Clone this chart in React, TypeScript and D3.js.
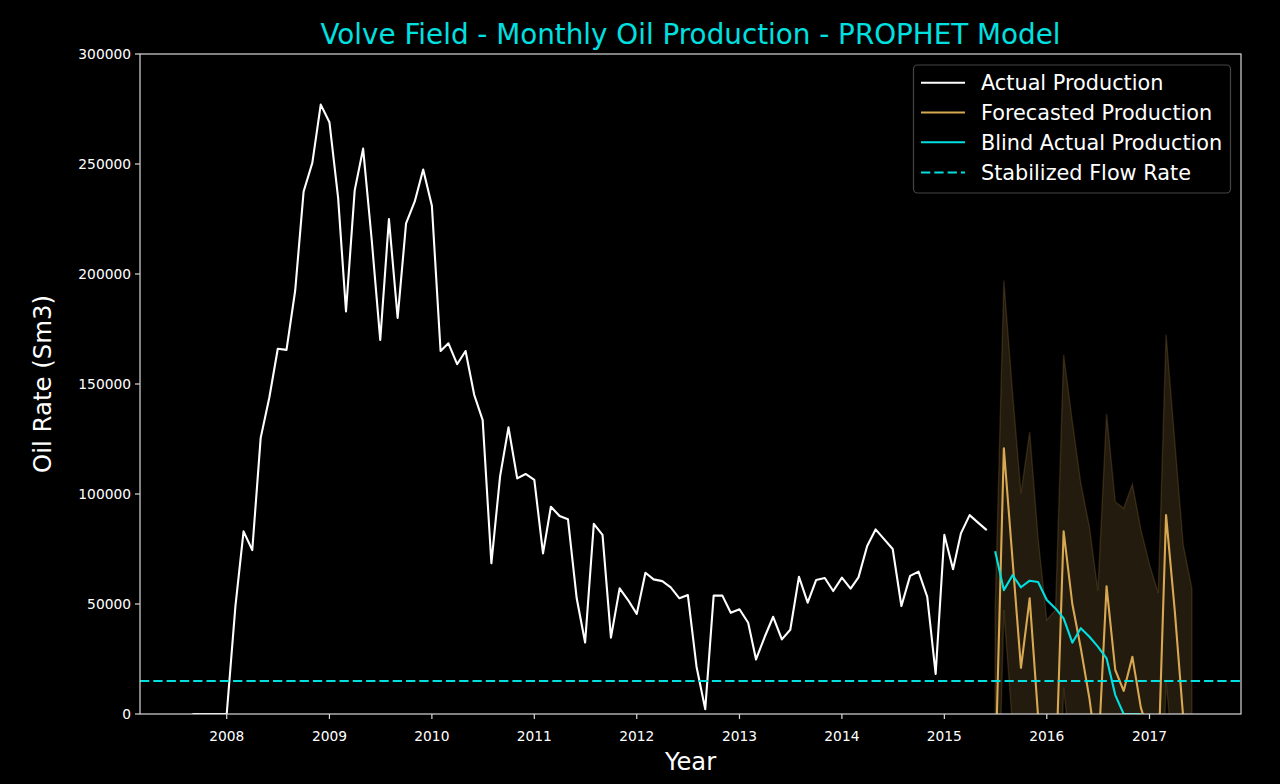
import React, { useEffect } from "react";
import * as d3 from "d3";

// ---------- DATA ----------
const actualStart = "2007-09";
const actualValues = [
  0, 0, 0, 0,
  0, 49000, 83000, 74500, 125500, 144000, 166000, 165500, 192500, 237500, 250500, 277000,
  269000, 234500, 183000, 238000, 257000, 215000, 170000, 225000, 180000, 223000, 233000, 247500,
  231000, 165000, 168500, 159000, 165000, 145000, 133600, 68500, 108000, 130300, 107100, 109100,
  106400, 73000, 94200, 90000, 88500, 52600, 32500, 86400, 81400, 34700, 57100, 51800,
  45500, 64200, 61200, 60400, 57600, 52600, 54100, 21500, 2200, 53800, 53800, 46000,
  47600, 41500, 24800, 35100, 44200, 33900, 38300, 62400, 50600, 60900, 61800, 55900,
  62000, 57000, 62100, 76400, 83900, 79400, 75000, 49100, 62800, 64700, 53300, 18200,
  81400, 65800, 82100, 90400, 87000, 83600,
];

const blindStart = "2015-07";
const blindValues = [
  74000, 56300, 63100, 57600, 60600, 60000, 51800, 48000, 43500, 32400, 39000, 35100,
  30600, 25300, 8600, 0, 0, 0,
];

const forecastStart = "2015-07";
const forecastValues = [
  -30000, 120750, 70000, 21000, 52600, -1000, -35000, -31000, 83000, 50000, 30000, 7000,
  -22000, 58000, 20000, 10500, 26000, 3000, -10000, -23000, 90400, 47000, -1500, -21000,
];
const forecastUpper = [
  48000, 197000, 146000, 100300, 128300, 80000, 42700, 47300, 163300, 133000, 105000, 85000,
  56000, 136500, 96500, 93500, 104500, 84000, 68000, 55000, 172500, 124000, 77000, 57000,
];
const forecastLower = [
  -104000, 47300, -6000, -55000, -23000, -76000, -110000, -104000, 12000, -26000, -46000, -70000,
  -97000, -18000, -56000, -65000, -50000, -72000, -86000, -98000, 15000, -28000, -76000, -95000,
];

const stabilizedRate = 15000;

const yTicks = [0, 50000, 100000, 150000, 200000, 250000, 300000];
const xTickYears = [2008, 2009, 2010, 2011, 2012, 2013, 2014, 2015, 2016, 2017];

const titleText = "Volve Field - Monthly Oil Production - PROPHET Model";
const xLabel = "Year";
const yLabel = "Oil Rate (Sm3)";
const legendLabels = [
  "Actual Production",
  "Forecasted Production",
  "Blind Actual Production",
  "Stabilized Flow Rate",
];

// ---------- helpers ----------
function monthSeries(start: string, n: number): Date[] {
  const [y, m] = start.split("-").map(Number);
  return d3.range(n).map((i) => new Date(y, m - 1 + i, 1));
}

const W = 1280;
const H = 784;
const plot = { left: 140, right: 1241, top: 54, bottom: 714 };

const CYAN = "#00e0e0";
const GOLD = "#d8a852";
const FONT = "DejaVu Sans, Verdana, sans-serif";

export default function App() {
  useEffect(() => {
    document.body.style.margin = "0";
    document.body.style.background = "#000";
  }, []);

  const x = d3
    .scaleTime()
    .domain([new Date(2007, 1, 26), new Date(2017, 10, 23)])
    .range([plot.left, plot.right]);
  const y = d3.scaleLinear().domain([0, 300000]).range([plot.bottom, plot.top]);

  const actualDates = monthSeries(actualStart, actualValues.length);
  const blindDates = monthSeries(blindStart, blindValues.length);
  const fDates = monthSeries(forecastStart, forecastValues.length);

  const line = d3
    .line<[Date, number]>()
    .x((d) => x(d[0]))
    .y((d) => y(d[1]));

  const actualPath = line(actualDates.map((d, i) => [d, actualValues[i]]))!;
  const blindPath = line(blindDates.map((d, i) => [d, blindValues[i]]))!;
  const forecastPath = line(fDates.map((d, i) => [d, forecastValues[i]]))!;
  const bandPath = d3
    .area<number>()
    .x((i) => x(fDates[i]))
    .y0((i) => y(forecastLower[i]))
    .y1((i) => y(forecastUpper[i]))(d3.range(fDates.length))!;

  const legendX = 913.5;
  const legendY = 65;
  const rowY = [82.7, 112.5, 142.3, 172.5];

  return (
    <div style={{ position: "fixed", left: 0, top: 0, width: W, height: H, background: "#000" }}>
      <svg width={W} height={H} style={{ display: "block", background: "#000" }} fontFamily={FONT}>
        <defs>
          <clipPath id="plotclip">
            <rect x={plot.left} y={plot.top} width={plot.right - plot.left} height={plot.bottom - plot.top} />
          </clipPath>
        </defs>
        <rect x={0} y={0} width={W} height={H} fill="#000" />

        <g clipPath="url(#plotclip)">
          <path d={actualPath} fill="none" stroke="#ffffff" strokeWidth={2.1} strokeLinejoin="round" />
          <path d={bandPath} fill={GOLD} fillOpacity={0.16} stroke={GOLD} strokeOpacity={0.18} strokeWidth={1.4} />
          <path d={forecastPath} fill="none" stroke={GOLD} strokeWidth={2.1} strokeLinejoin="round" />
          <path d={blindPath} fill="none" stroke={CYAN} strokeWidth={2.1} strokeLinejoin="round" />
          <line
            x1={plot.left}
            x2={plot.right}
            y1={y(stabilizedRate)}
            y2={y(stabilizedRate)}
            stroke={CYAN}
            strokeWidth={2.1}
            strokeDasharray="9.3 4"
          />
        </g>

        {/* spines */}
        <rect
          x={plot.left}
          y={plot.top}
          width={plot.right - plot.left}
          height={plot.bottom - plot.top}
          fill="none"
          stroke="#d8d8d8"
          strokeWidth={1.2}
        />

        {/* y ticks */}
        {yTicks.map((t) => (
          <g key={"y" + t}>
            <line x1={plot.left - 5} x2={plot.left} y1={y(t)} y2={y(t)} stroke="#d8d8d8" strokeWidth={1.2} />
            <text x={plot.left - 9} y={y(t) + 4.9} fill="#fff" fontSize={13.8} textAnchor="end">
              {t}
            </text>
          </g>
        ))}

        {/* x ticks */}
        {xTickYears.map((yr) => {
          const px = x(new Date(yr, 0, 1));
          return (
            <g key={"x" + yr}>
              <line x1={px} x2={px} y1={plot.bottom} y2={plot.bottom + 5} stroke="#d8d8d8" strokeWidth={1.2} />
              <text x={px} y={740.5} fill="#fff" fontSize={13.8} textAnchor="middle">
                {yr}
              </text>
            </g>
          );
        })}

        {/* labels */}
        <text x={(plot.left + plot.right) / 2} y={44} fill={CYAN} fontSize={27.8} textAnchor="middle">
          {titleText}
        </text>
        <text x={(plot.left + plot.right) / 2} y={770} fill="#fff" fontSize={24.2} textAnchor="middle">
          {xLabel}
        </text>
        <text
          transform={`translate(51, ${(plot.top + plot.bottom) / 2}) rotate(-90)`}
          fill="#fff"
          fontSize={24.4}
          textAnchor="middle"
        >
          {yLabel}
        </text>

        {/* legend */}
        <rect x={legendX} y={legendY} width={317} height={128} rx={4} fill="#000" fillOpacity={0.8} stroke="#444" strokeWidth={1.2} />
        {legendLabels.map((lab, i) => {
          const color = i === 0 ? "#ffffff" : i === 1 ? GOLD : CYAN;
          return (
            <g key={lab}>
              <line
                x1={921}
                x2={965}
                y1={rowY[i]}
                y2={rowY[i]}
                stroke={color}
                strokeWidth={2.1}
                strokeDasharray={i === 3 ? "9.3 4" : undefined}
              />
              <text x={981} y={rowY[i] + 7.4} fill="#fff" fontSize={20.8}>
                {lab}
              </text>
            </g>
          );
        })}
      </svg>
    </div>
  );
}
